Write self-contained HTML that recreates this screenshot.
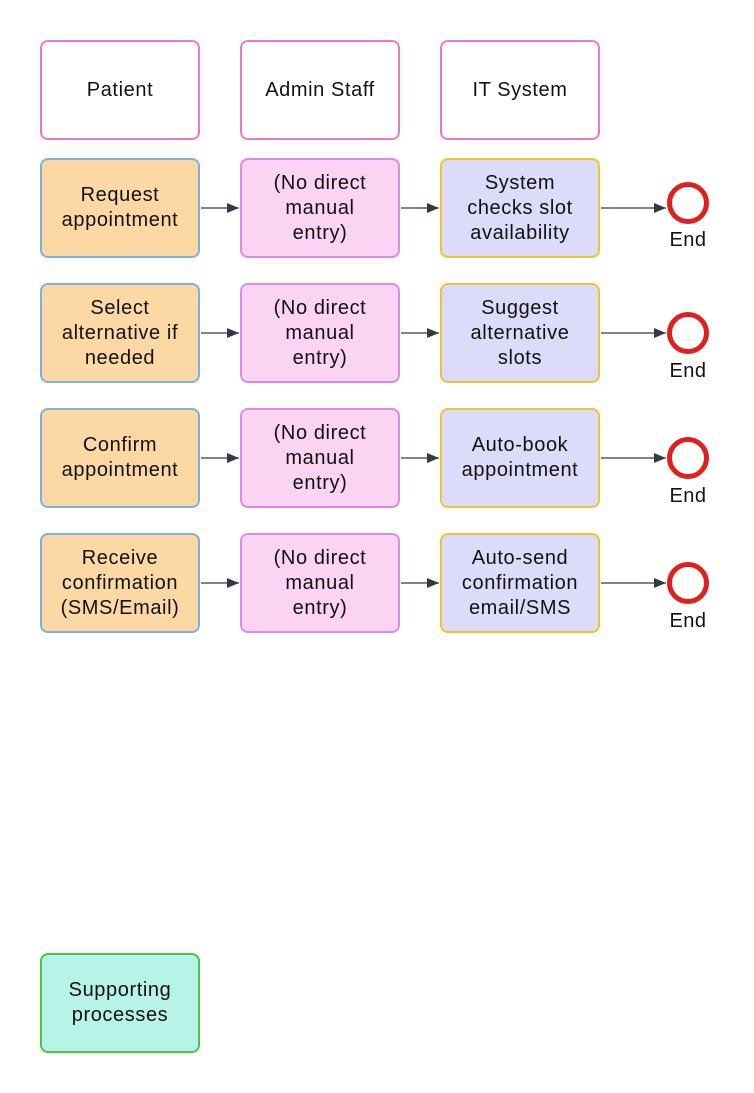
<!DOCTYPE html>
<html><head><style>
body{margin:0;width:754px;height:1093px;background:#fff;position:relative;font-family:"Liberation Sans",sans-serif;overflow:hidden}
.b{position:absolute;width:156px;height:96px;border-radius:8px;display:flex;align-items:center;justify-content:center;text-align:center;font-size:20px;letter-spacing:0.6px;line-height:25px;color:#111;box-sizing:content-box}
.h{background:#fff;border:2px solid #e879c9}
.p{background:#fcd9a4;border:2px solid #7fb0de}
.a{background:#fbd3f3;border:2px solid #d98be6}
.s{background:#dcdcfa;border:2px solid #f2c230}
.g{background:#b7f3e6;border:2px solid #4cc44c}
.c{position:absolute;width:32px;height:32px;border:5px solid #e01f1f;border-radius:50%;background:#fff}
.e{position:absolute;font-size:20px;letter-spacing:0.5px;color:#111;width:60px;text-align:center}
</style></head><body>
<div class="b h" style="left:40px;top:40px">Patient</div>
<div class="b h" style="left:240px;top:40px">Admin Staff</div>
<div class="b h" style="left:440px;top:40px">IT System</div>

<div class="b p" style="left:40px;top:158px">Request<br>appointment</div>
<div class="b a" style="left:240px;top:158px">(No direct<br>manual<br>entry)</div>
<div class="b s" style="left:440px;top:158px">System<br>checks slot<br>availability</div>

<div class="b p" style="left:40px;top:283px">Select<br>alternative if<br>needed</div>
<div class="b a" style="left:240px;top:283px">(No direct<br>manual<br>entry)</div>
<div class="b s" style="left:440px;top:283px">Suggest<br>alternative<br>slots</div>

<div class="b p" style="left:40px;top:408px">Confirm<br>appointment</div>
<div class="b a" style="left:240px;top:408px">(No direct<br>manual<br>entry)</div>
<div class="b s" style="left:440px;top:408px">Auto-book<br>appointment</div>

<div class="b p" style="left:40px;top:533px">Receive<br>confirmation<br>(SMS/Email)</div>
<div class="b a" style="left:240px;top:533px">(No direct<br>manual<br>entry)</div>
<div class="b s" style="left:440px;top:533px">Auto-send<br>confirmation<br>email/SMS</div>

<div class="b g" style="left:40px;top:953px">Supporting<br>processes</div>

<div class="c" style="left:667px;top:182px"></div><div class="e" style="left:658px;top:229px">End</div>
<div class="c" style="left:667px;top:312px"></div><div class="e" style="left:658px;top:360px">End</div>
<div class="c" style="left:667px;top:437px"></div><div class="e" style="left:658px;top:485px">End</div>
<div class="c" style="left:667px;top:562px"></div><div class="e" style="left:658px;top:610px">End</div>

<svg width="754" height="1093" style="position:absolute;left:0;top:0">
<defs><marker id="m" markerWidth="12" markerHeight="10" refX="12" refY="5" orient="auto" markerUnits="userSpaceOnUse"><path d="M0,0 L12,5 L0,10z" fill="#333a45"/></marker></defs>
<g stroke="#333a45" stroke-width="1.2" marker-end="url(#m)">
<line x1="201" y1="208" x2="239" y2="208"/><line x1="401" y1="208" x2="439" y2="208"/><line x1="601" y1="208" x2="666" y2="208"/>
<line x1="201" y1="333" x2="239" y2="333"/><line x1="401" y1="333" x2="439" y2="333"/><line x1="601" y1="333" x2="666" y2="333"/>
<line x1="201" y1="458" x2="239" y2="458"/><line x1="401" y1="458" x2="439" y2="458"/><line x1="601" y1="458" x2="666" y2="458"/>
<line x1="201" y1="583" x2="239" y2="583"/><line x1="401" y1="583" x2="439" y2="583"/><line x1="601" y1="583" x2="666" y2="583"/>
</g></svg>
</body></html>
